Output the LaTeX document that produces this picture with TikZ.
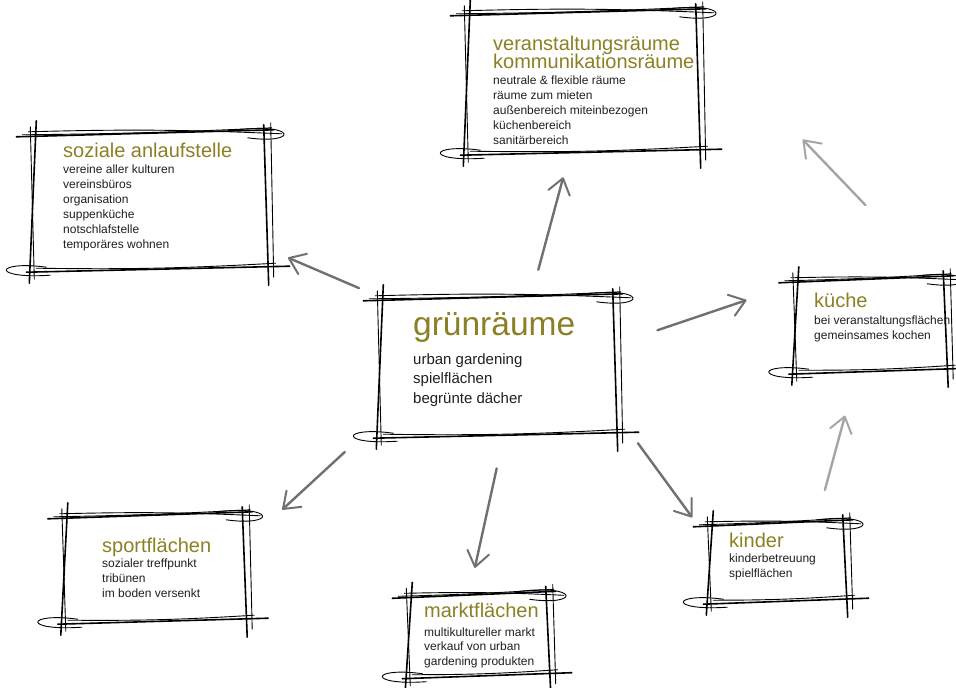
\documentclass[tikz,border=0pt]{standalone}
\usepackage{fontspec}
\setmainfont{Liberation Sans}
\usetikzlibrary{arrows.meta}

\definecolor{oliv}{RGB}{139,128,36}
\definecolor{dunkelgrau}{RGB}{112,112,112}
\definecolor{hellgrau}{RGB}{165,165,165}

% hand drawn frame round a node
\newcommand{\skizze}[1]{%
  \draw[strich] ([shift={(-16,4)}]#1.north west) -- ([shift={(6,-3)}]#1.north east);
  \draw[fein] ([shift={(-4,-1)}]#1.north west) to[bend left=2] ([shift={(14,1)}]#1.north east);
  \draw[fein] ([shift={(-10,2)}]#1.north west) to[bend right=1] ([shift={(4,-5)}]#1.north east);
  \draw[fein] ([shift={(-30,-3)}]#1.north east) .. controls ([shift={(30,-10)}]#1.north east) and ([shift={(30,12)}]#1.north east) .. ([shift={(-20,5)}]#1.north east);
  \draw[strich] ([shift={(4,-12)}]#1.north west) -- ([shift={(-3,14)}]#1.south west);
  \draw[fein] ([shift={(-2,-6)}]#1.north west) -- ([shift={(2,10)}]#1.south west);
  \draw[strich] ([shift={(-4,-8)}]#1.north east) -- ([shift={(1,16)}]#1.south east);
  \draw[fein] ([shift={(3,-10)}]#1.north east) -- ([shift={(6,8)}]#1.south east);
  \draw[strich] ([shift={(-6,3)}]#1.south west) -- ([shift={(22,-3)}]#1.south east);
  \draw[fein] ([shift={(4,-1)}]#1.south west) to[bend right=2] ([shift={(8,-6)}]#1.south east);
  \draw[fein] ([shift={(18,6)}]#1.south west) .. controls ([shift={(-42,10)}]#1.south west) and ([shift={(-38,-9)}]#1.south west) .. ([shift={(14,-2)}]#1.south west);
}

\begin{document}
\begin{tikzpicture}[x=1pt,y=-1pt,
  feld/.style={rectangle,inner sep=0pt},
  strich/.style={black,line width=1.6pt,line cap=round},
  fein/.style={black,line width=0.9pt,line cap=round},
  titel/.style={anchor=base west,inner sep=0pt,text=oliv,font=\fontsize{20}{20}\selectfont},
  zeile/.style={anchor=base west,inner sep=0pt,text=black!88,font=\fontsize{12}{12}\selectfont},
  pfeil/.style={draw=#1,line width=2.4pt,line cap=round,
    -{Straight Barb[length=15pt,width=22pt,line width=2pt,round]}},
  pfeil/.default=dunkelgrau]

\useasboundingbox (0,0) rectangle (956,688);

% felder
\node[feld,minimum width=237pt,minimum height=138pt] (gruen) at (498,366) {};
\node[feld,minimum width=233pt,minimum height=140pt] (veranst) at (583,82) {};
\node[feld,minimum width=235pt,minimum height=136pt] (sozial) at (150,201) {};
\node[feld,minimum width=152pt,minimum height=92pt] (kueche) at (871,325) {};
\node[feld,minimum width=182pt,minimum height=106pt] (sport) at (155,568) {};
\node[feld,minimum width=141pt,minimum height=81pt] (markt) at (479,635) {};
\node[feld,minimum width=137pt,minimum height=78pt] (kinder) at (778,562) {};

% pfeile
\draw[pfeil,shorten <=22pt,shorten >=22pt] (gruen.north west) -- ([shift={(0,48)}]sozial.east);
\draw[pfeil,shorten <=28pt,shorten >=26pt] ([shift={(33,0)}]gruen.north) -- ([shift={(-13,0)}]veranst.south);
\draw[pfeil,shorten <=43pt,shorten >=51pt] ([shift={(0,-22)}]gruen.east) -- ([shift={(0,5)}]kueche.north west);
\draw[pfeil=hellgrau,shorten <=102pt,shorten >=149pt] ([shift={(65,0)}]kueche.north) -- ([shift={(0,-50)}]veranst.east);
\draw[pfeil,shorten <=36pt,shorten >=29pt] ([shift={(0,-21)}]gruen.south east) -- ([shift={(0,18)}]kinder.north west);
\draw[pfeil=hellgrau,shorten <=34pt,shorten >=46pt] ([shift={(38,0)}]kinder.north) -- ([shift={(-14,0)}]kueche.south);
\draw[pfeil,shorten <=34pt,shorten >=27pt] ([shift={(6,0)}]gruen.south) -- ([shift={(-10,0)}]markt.north);
\draw[pfeil,shorten <=47pt,shorten >=49pt] ([shift={(0,-15)}]gruen.south west) -- ([shift={(0,28)}]sport.north east);

% rahmen
\foreach \f in {gruen,veranst,sozial,kueche,sport,markt,kinder}
  \skizze{\f};

% texte
\node[titel,font=\fontsize{33.5}{33.5}\selectfont] (gruen-t) at (413,335) {grünräume};
\foreach \z [count=\i from 0] in {urban gardening,spielflächen,begrünte dächer}
  \node[zeile,font=\fontsize{15}{15}\selectfont] (gruen-\i) at (413,{364+19.5*\i}) {\z};

\node[titel] (veranst-t) at (493,50) {veranstaltungsräume};
\node[titel] (veranst-u) at (493,68.5) {kommunikationsräume};
\foreach \z [count=\i from 0] in {neutrale \& flexible räume,räume zum mieten,außenbereich miteinbezogen,küchenbereich,sanitärbereich}
  \node[zeile] (veranst-\i) at (493,{84.5+15*\i}) {\z};

\node[titel] (sozial-t) at (63,157) {soziale anlaufstelle};
\foreach \z [count=\i from 0] in {vereine aller kulturen,vereinsbüros,organisation,suppenküche,notschlafstelle,temporäres wohnen}
  \node[zeile] (sozial-\i) at (63,{173+15*\i}) {\z};

\node[titel] (kueche-t) at (814,307) {küche};
\foreach \z [count=\i from 0] in {bei veranstaltungsflächen,gemeinsames kochen}
  \node[zeile] (kueche-\i) at (814,{324+15*\i}) {\z};

\node[titel] (sport-t) at (102,552) {sportflächen};
\foreach \z [count=\i from 0] in {sozialer treffpunkt,tribünen,im boden versenkt}
  \node[zeile] (sport-\i) at (102,{567+15*\i}) {\z};

\node[titel] (markt-t) at (424,617) {marktflächen};
\foreach \z [count=\i from 0] in {multikultureller markt,verkauf von urban,gardening produkten}
  \node[zeile] (markt-\i) at (424,{636+14.5*\i}) {\z};

\node[titel] (kinder-t) at (729,547) {kinder};
\foreach \z [count=\i from 0] in {kinderbetreuung,spielflächen}
  \node[zeile] (kinder-\i) at (729,{562+15*\i}) {\z};
\end{tikzpicture}
\end{document}
